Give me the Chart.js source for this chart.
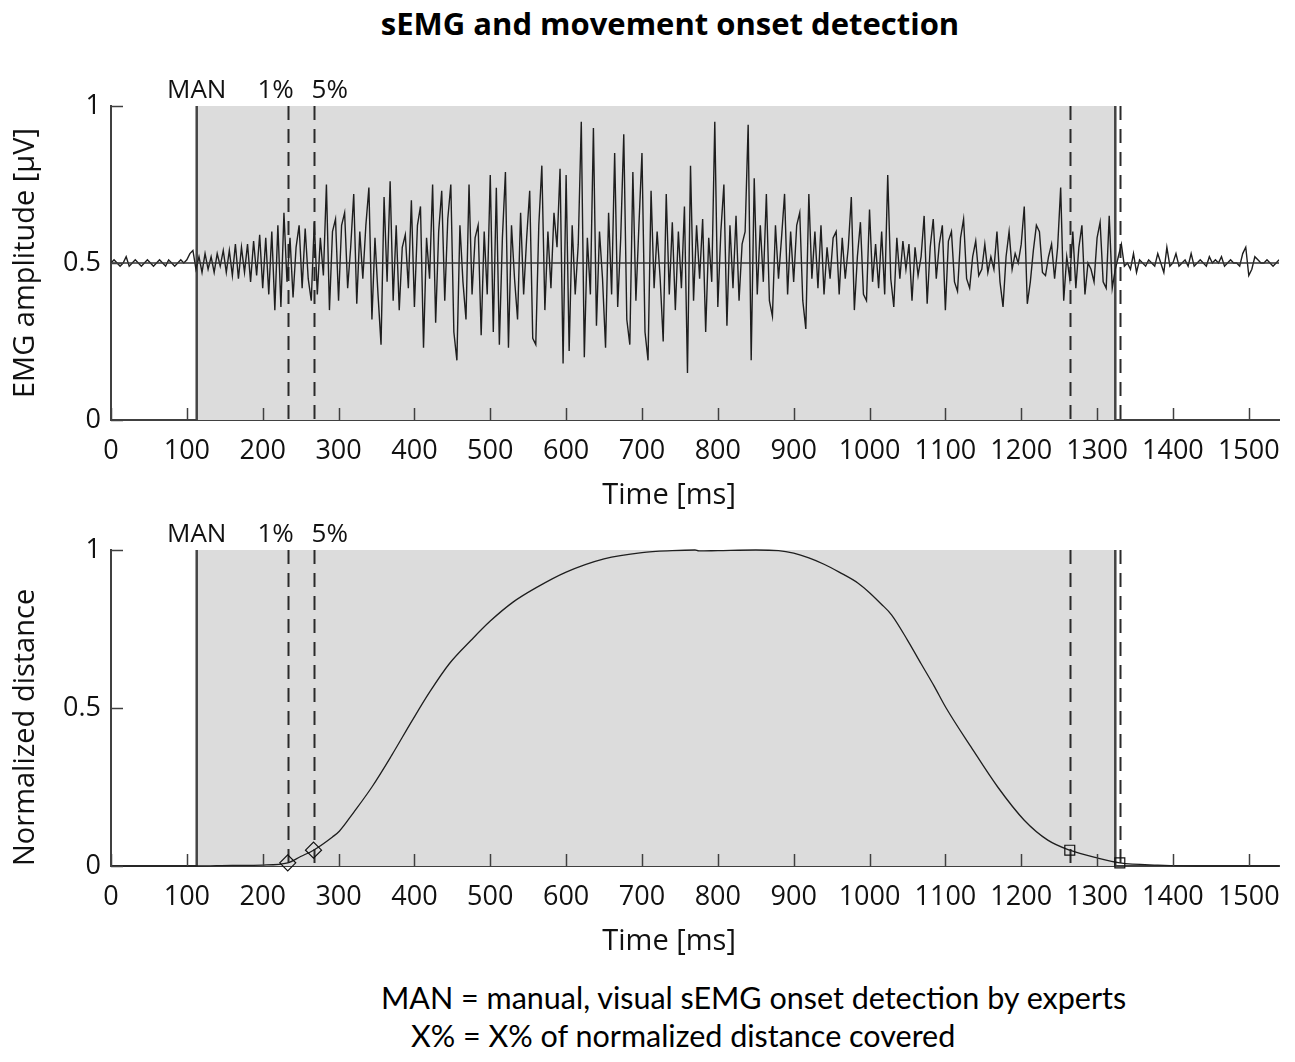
<!DOCTYPE html>
<html>
<head>
<meta charset="utf-8">
<script src="https://cdn.jsdelivr.net/npm/chart.js@4.4.1/dist/chart.umd.min.js"></script>
<style>
  body { margin: 0; background: #fff; }
  #wrap { position: relative; width: 1295px; height: 1062px; }
  .box { position: absolute; left: 0; }
  #title { position: absolute; top: 2px; left: 0; width: 1340px; text-align: center;
    font: bold 31px 'Open Sans', sans-serif; color: #000; }
  .note { position: absolute; font: 30.5px Lato, sans-serif; color: #000; white-space: nowrap; }
</style>
</head>
<body>
<div id="wrap">
  <div id="title">sEMG and movement onset detection</div>
  <div class="box" style="top:0px"><canvas id="chart1" width="1295" height="530"></canvas></div>
  <div class="box" style="top:505px"><canvas id="chart2" width="1295" height="455"></canvas></div>
  <div class="note" style="left:381px; top:979px">MAN = manual, visual sEMG onset detection by experts</div>
  <div class="note" style="left:411px; top:1017px">X% = X% of normalized distance covered</div>
</div>
<script>
// time axis
var xMax = 1540;
var xTicks = [0, 100, 200, 300, 400, 500, 600, 700, 800, 900, 1000, 1100, 1200, 1300, 1400, 1500];
var yTicks = [0, 0.5, 1];

// onsets (ms)
var manTimes = [113, 1324];            // manual onset / offset (solid)
var pctTimes = [233, 267, 1264, 1330]; // 1%, 5%, 5%, 1% (dashed)
var onsetLabels = ['MAN', '1%', '5%'];
var onsetLabelTimes = [113, 233, 267];

// raw sEMG, one sample every 4 ms, one array per 100 ms
var emgStep = 4;
var emg000 = [0.50,0.51,0.50,0.49,0.50,0.52,0.49,0.50,0.51,0.50,0.49,0.50,0.51,0.50,0.49,0.50,0.51,0.50,0.49,0.51,0.50,0.49,0.50,0.51,0.50];
var emg100 = [0.51,0.53,0.54,0.48,0.52,0.47,0.53,0.48,0.52,0.47,0.53,0.49,0.54,0.47,0.54,0.46,0.56,0.45,0.55,0.47,0.56,0.44,0.57,0.46,0.59];
var emg200 = [0.42,0.58,0.40,0.60,0.35,0.62,0.36,0.66,0.44,0.58,0.39,0.55,0.62,0.42,0.61,0.45,0.38,0.63,0.40,0.58,0.46,0.75,0.35,0.60,0.64];
var emg300 = [0.38,0.62,0.66,0.42,0.55,0.72,0.37,0.60,0.45,0.62,0.74,0.32,0.58,0.40,0.24,0.71,0.44,0.76,0.38,0.62,0.35,0.55,0.59,0.42,0.70];
var emg400 = [0.36,0.62,0.68,0.23,0.58,0.45,0.75,0.31,0.60,0.73,0.38,0.64,0.75,0.28,0.19,0.62,0.44,0.32,0.75,0.40,0.58,0.62,0.27,0.60,0.40];
var emg500 = [0.78,0.28,0.74,0.24,0.58,0.79,0.23,0.62,0.45,0.32,0.66,0.40,0.58,0.73,0.26,0.24,0.62,0.81,0.35,0.60,0.42,0.66,0.55,0.80,0.18];
var emg600 = [0.78,0.22,0.62,0.40,0.56,0.95,0.20,0.58,0.40,0.93,0.30,0.60,0.45,0.23,0.66,0.40,0.85,0.36,0.58,0.91,0.32,0.24,0.79,0.38,0.62];
var emg700 = [0.85,0.28,0.19,0.73,0.42,0.60,0.45,0.25,0.72,0.40,0.63,0.35,0.60,0.42,0.68,0.15,0.81,0.38,0.62,0.45,0.64,0.28,0.58,0.44,0.95];
var emg800 = [0.36,0.60,0.75,0.30,0.62,0.42,0.65,0.38,0.56,0.60,0.94,0.19,0.77,0.40,0.62,0.44,0.72,0.38,0.33,0.62,0.45,0.58,0.72,0.40,0.60];
var emg900 = [0.44,0.62,0.66,0.38,0.29,0.72,0.45,0.60,0.42,0.62,0.40,0.55,0.45,0.58,0.60,0.40,0.58,0.45,0.55,0.71,0.35,0.52,0.63,0.40,0.38];
var emg1000 = [0.67,0.44,0.56,0.42,0.60,0.40,0.78,0.45,0.36,0.58,0.45,0.57,0.48,0.56,0.38,0.55,0.46,0.52,0.65,0.37,0.55,0.64,0.45,0.56,0.62];
var emg1100 = [0.35,0.57,0.60,0.44,0.41,0.58,0.64,0.45,0.42,0.52,0.57,0.46,0.48,0.56,0.47,0.52,0.48,0.60,0.44,0.36,0.52,0.60,0.48,0.53,0.50];
var emg1200 = [0.56,0.68,0.37,0.44,0.54,0.62,0.60,0.47,0.46,0.52,0.56,0.45,0.55,0.74,0.38,0.52,0.45,0.60,0.42,0.55,0.62,0.40,0.50,0.48,0.44];
var emg1300 = [0.58,0.63,0.44,0.42,0.65,0.42,0.48,0.52,0.56,0.49,0.50,0.48,0.53,0.47,0.51,0.50,0.49,0.51,0.50,0.49,0.53,0.50,0.47,0.55,0.49];
var emg1400 = [0.50,0.53,0.49,0.50,0.51,0.49,0.53,0.49,0.50,0.51,0.50,0.49,0.52,0.50,0.51,0.50,0.52,0.49,0.50,0.51,0.50,0.50,0.49,0.53,0.55];
var emg1500 = [0.46,0.48,0.52,0.51,0.50,0.50,0.51,0.50,0.49,0.50,0.51];
var emgBaseline = 0.5;

// normalized distance of the movement
var distTime = [0, 113, 160, 200, 233, 250, 267, 292, 301, 320, 344, 370, 397, 420, 446, 475, 500, 530, 560, 600, 650, 700, 740, 770, 775, 800, 850, 880, 900, 920, 940, 960, 985, 1000, 1015, 1029, 1050, 1068, 1085, 1101, 1134, 1169, 1204, 1235, 1264, 1301, 1330, 1380, 1450, 1540];
var distValue = [0, 0, 0.002, 0.003, 0.01, 0.03, 0.05, 0.092, 0.11, 0.17, 0.25, 0.35, 0.46, 0.55, 0.64, 0.715, 0.775, 0.835, 0.88, 0.93, 0.972, 0.992, 0.998, 1.0, 0.997, 0.998, 1.0, 0.998, 0.99, 0.975, 0.955, 0.93, 0.895, 0.865, 0.83, 0.795, 0.715, 0.64, 0.57, 0.50, 0.376, 0.25, 0.145, 0.082, 0.05, 0.025, 0.01, 0.003, 0, 0];
var onsetMarkTime = [233, 267];
var onsetMarkValue = [0.01, 0.05];
var offsetMarkTime = [1264, 1330];
var offsetMarkValue = [0.05, 0.01];

Chart.defaults.font.family = "'Open Sans', sans-serif";
Chart.defaults.font.size = 27;
Chart.defaults.color = '#111';

var AXIS = '#404040';

function xy(xs, ys) {
  return xs.map(function(v, i) { return {x: v, y: ys[i]}; });
}

var emgAll = [].concat(emg000, emg100, emg200, emg300, emg400, emg500, emg600, emg700,
  emg800, emg900, emg1000, emg1100, emg1200, emg1300, emg1400, emg1500);
var emgData = emgAll.map(function(v, i) { return {x: i * emgStep, y: v}; });

var onsetPlugin = {
  id: 'onsets',
  beforeDatasetsDraw: function(chart) {
    var ctx = chart.ctx, sx = chart.scales.x, a = chart.chartArea;
    var x0 = sx.getPixelForValue(manTimes[0]);
    var x1 = sx.getPixelForValue(manTimes[1]);
    ctx.save();
    ctx.fillStyle = '#dcdcdc';
    ctx.fillRect(x0, a.top, x1 - x0, a.bottom - a.top);
    // dashed lines
    ctx.strokeStyle = '#2a2a2a';
    ctx.lineWidth = 2;
    ctx.setLineDash([14, 9]);
    pctTimes.forEach(function(t) {
      var px = Math.round(sx.getPixelForValue(t)) + 0.5;
      ctx.beginPath();
      ctx.moveTo(px, a.top);
      ctx.lineTo(px, a.bottom);
      ctx.stroke();
    });
    // solid manual lines
    ctx.setLineDash([]);
    ctx.strokeStyle = '#444';
    ctx.lineWidth = 2.5;
    manTimes.forEach(function(t) {
      var px = sx.getPixelForValue(t);
      ctx.beginPath();
      ctx.moveTo(px, a.top);
      ctx.lineTo(px, a.bottom);
      ctx.stroke();
    });
    ctx.restore();
  },
  afterDatasetsDraw: function(chart) {
    var ctx = chart.ctx, sx = chart.scales.x, sy = chart.scales.y, a = chart.chartArea;
    ctx.save();
    // inward ticks
    ctx.strokeStyle = AXIS;
    ctx.lineWidth = 1.5;
    xTicks.forEach(function(t) {
      var px = Math.round(sx.getPixelForValue(t)) + 0.5;
      ctx.beginPath();
      ctx.moveTo(px, a.bottom);
      ctx.lineTo(px, a.bottom - 12);
      ctx.stroke();
    });
    yTicks.forEach(function(t) {
      var py = Math.round(sy.getPixelForValue(t)) + 0.5;
      ctx.beginPath();
      ctx.moveTo(a.left, py);
      ctx.lineTo(a.left + 12, py);
      ctx.stroke();
    });
    // labels above the plot
    ctx.fillStyle = '#111';
    ctx.font = "26px 'Open Sans', sans-serif";
    ctx.textBaseline = 'middle';
    var aligns = ['center', 'right', 'left'];
    var shifts = [0, 6, -2];
    onsetLabels.forEach(function(txt, i) {
      ctx.textAlign = aligns[i];
      ctx.fillText(txt, sx.getPixelForValue(onsetLabelTimes[i]) + shifts[i], a.top - 15);
    });
    // x axis title, a bit left of centre like the original
    ctx.font = "29px 'Open Sans', sans-serif";
    ctx.textAlign = 'center';
    ctx.fillText('Time [ms]', (a.left + a.right) / 2 - 26, a.bottom + 76);
    ctx.restore();
  }
};

function makeOptions(yTitle, yAlign, xBoxHeight, topPad) {
  return {
    responsive: false,
    animation: false,
    events: [],
    layout: { padding: { top: topPad, right: 13, left: 0, bottom: 0 } },
    plugins: { legend: { display: false }, tooltip: { enabled: false } },
    scales: {
      x: {
        type: 'linear', min: 0, max: xMax,
        grid: { display: false, drawTicks: false },
        border: { display: true, color: AXIS, width: 2 },
        afterBuildTicks: function(s) { s.ticks = xTicks.map(function(v) { return {value: v}; }); },
        afterFit: function(s) { s.height = xBoxHeight; },
        ticks: { padding: 15, maxRotation: 0, autoSkip: false, color: '#111',
          callback: function(v) { return String(v); } }
      },
      y: {
        min: 0, max: 1,
        grid: { display: false, drawTicks: false },
        border: { display: true, color: AXIS, width: 2 },
        afterBuildTicks: function(s) { s.ticks = yTicks.map(function(v) { return {value: v}; }); },
        afterFit: function(s) { s.width = 111; },
        ticks: { padding: 10, color: '#111', callback: function(v) { return String(v); } },
        title: { display: true, text: yTitle, color: '#111', align: yAlign,
          font: { size: 29 }, padding: { top: 8, bottom: 0 } }
      }
    }
  };
}

var chart1 = new Chart(document.getElementById('chart1'), {
  type: 'line',
  data: {
    datasets: [{
      data: [{x: 0, y: emgBaseline}, {x: xMax, y: emgBaseline}],
      borderColor: '#333', borderWidth: 1.5, pointRadius: 0
    }, {
      data: emgData,
      borderColor: '#1e1e1e', borderWidth: 1.4, pointRadius: 0, tension: 0
    }]
  },
  options: makeOptions('EMG amplitude [µV]', 'center', 110, 106),
  plugins: [onsetPlugin]
});

var chart2 = new Chart(document.getElementById('chart2'), {
  type: 'line',
  data: {
    datasets: [{
      data: xy(onsetMarkTime, onsetMarkValue),
      showLine: false, pointStyle: 'rectRot', pointRadius: 8,
      borderColor: '#111', borderWidth: 1.2, backgroundColor: 'rgba(0,0,0,0)', clip: false
    }, {
      data: xy(offsetMarkTime, offsetMarkValue),
      showLine: false, pointStyle: 'rect', pointRadius: 7,
      borderColor: '#111', borderWidth: 1.2, backgroundColor: 'rgba(0,0,0,0)', clip: false
    }, {
      data: xy(distTime, distValue),
      borderColor: '#1e1e1e', borderWidth: 1.3, pointRadius: 0,
      cubicInterpolationMode: 'monotone', clip: false
    }]
  },
  options: makeOptions('Normalized distance', 'start', 94, 45),
  plugins: [onsetPlugin]
});
</script>
</body>
</html>
